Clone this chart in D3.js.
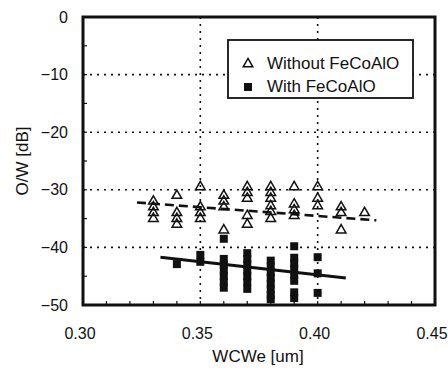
<!DOCTYPE html>
<html>
<head>
<meta charset="utf-8">
<script src="https://cdn.jsdelivr.net/npm/d3@7/dist/d3.min.js"></script>
<style>
  body { margin: 0; background: #fff; }
  text { font-family: Arial, "Liberation Sans", sans-serif; fill: #111; }
</style>
</head>
<body>
<div id="chart"></div>
<script>
// x positions (WCWe, um)
const wcwe = [0.33, 0.34, 0.35, 0.36, 0.37, 0.38, 0.39, 0.40, 0.41, 0.42];

// O/W [dB] without FeCoAlO, one list per WCWe
const withoutVals = [
  [-32, -33, -34, -35],
  [-31, -34, -35, -36],
  [-29.5, -33, -34, -35],
  [-31, -32, -33, -37],
  [-29.5, -30.5, -31.5, -34.5, -36],
  [-29.5, -30.5, -31.5, -32.8, -33.8, -35],
  [-29.5, -32.5, -33.5, -34.5],
  [-29.5, -31.5, -32.8],
  [-33, -34, -37],
  [-34]
];

// O/W [dB] with FeCoAlO (no data at 0.33, 0.41, 0.42)
const withVals = [
  [],
  [-42.9],
  [-41.3, -42.5],
  [-38.5, -42, -43, -44, -45, -46, -47],
  [-41, -42, -43, -44, -45, -46, -47.2],
  [-42.3, -43.3, -44.3, -45.3, -46.3, -47.3, -48.3, -49],
  [-39.8, -41.8, -42.8, -43.8, -44.8, -45.8, -47.8, -48.8],
  [-41.7, -44.5, -47.9],
  [],
  []
];

// trend lines (endpoints)
const withoutFit = [[0.323, -32.2], [0.425, -35.3]];
const withFit = [[0.333, -41.7], [0.412, -45.3]];

const xTicks = [0.30, 0.35, 0.40, 0.45];
const yTicks = [0, -10, -20, -30, -40, -50];
const legendLabels = ["Without FeCoAlO", "With FeCoAlO"];

const width = 448, height = 369;
const margin = { left: 83, top: 17, right: 13, bottom: 64 };

const svg = d3.select('#chart').append('svg')
  .attr('width', width)
  .attr('height', height);

const x = d3.scaleLinear().domain([0.30, 0.45]).range([margin.left, width - margin.right]);
const y = d3.scaleLinear().domain([-50, 0]).range([height - margin.bottom, margin.top]);

// grid (dotted)
svg.append('g').selectAll('line')
  .data([-10, -20, -30, -40])
  .enter().append('line')
  .attr('x1', x(0.30)).attr('x2', x(0.45))
  .attr('y1', d => y(d)).attr('y2', d => y(d))
  .attr('stroke', '#111').attr('stroke-width', 1.6)
  .attr('stroke-dasharray', '2,5');

svg.append('g').selectAll('line')
  .data([0.35, 0.40])
  .enter().append('line')
  .attr('x1', d => x(d)).attr('x2', d => x(d))
  .attr('y1', y(0)).attr('y2', y(-50))
  .attr('stroke', '#111').attr('stroke-width', 1.6)
  .attr('stroke-dasharray', '2,5');

// minor inner ticks
svg.append('g').selectAll('line')
  .data(d3.range(-45, 0, 5))
  .enter().append('line')
  .attr('x1', x(0.30)).attr('x2', x(0.30) + 4)
  .attr('y1', d => y(d)).attr('y2', d => y(d))
  .attr('stroke', '#111').attr('stroke-width', 1.2);

svg.append('g').selectAll('line')
  .data(d3.range(31, 45).map(d => d / 100))
  .enter().append('line')
  .attr('x1', d => x(d)).attr('x2', d => x(d))
  .attr('y1', y(-50)).attr('y2', y(-50) - 4)
  .attr('stroke', '#111').attr('stroke-width', 1.2);

// trend lines
const line = d3.line().x(d => x(d[0])).y(d => y(d[1]));
svg.append('path')
  .attr('d', line(withoutFit))
  .attr('fill', 'none').attr('stroke', '#111').attr('stroke-width', 2.6)
  .attr('stroke-dasharray', '9,5');
svg.append('path')
  .attr('d', line(withFit))
  .attr('fill', 'none').attr('stroke', '#111').attr('stroke-width', 3);

// points
const tri = d3.symbol().type(d3.symbolTriangle).size(40);
const triPts = wcwe.flatMap((w, i) => withoutVals[i].map(v => [w, v]));
const sqPts = wcwe.flatMap((w, i) => withVals[i].map(v => [w, v]));

const sq = 8;
svg.append('g').selectAll('rect')
  .data(sqPts)
  .enter().append('rect')
  .attr('x', d => x(d[0]) - sq / 2)
  .attr('y', d => y(d[1]) - sq / 2)
  .attr('width', sq).attr('height', sq)
  .attr('fill', '#111');

svg.append('g').selectAll('path')
  .data(triPts)
  .enter().append('path')
  .attr('d', tri)
  .attr('transform', d => `translate(${x(d[0])},${y(d[1])})`)
  .attr('fill', 'none').attr('stroke', '#111').attr('stroke-width', 1.5);

// frame
svg.append('rect')
  .attr('x', x(0.30)).attr('y', y(0))
  .attr('width', x(0.45) - x(0.30)).attr('height', y(-50) - y(0))
  .attr('fill', 'none').attr('stroke', '#111').attr('stroke-width', 3);

// tick labels
svg.append('g').selectAll('text')
  .data(yTicks)
  .enter().append('text')
  .attr('x', 68).attr('y', d => y(d))
  .attr('dy', '0.35em')
  .attr('text-anchor', 'end')
  .style('font-size', '16px')
  .text(d => d === 0 ? '0' : '\u2212' + Math.abs(d));

svg.append('g').selectAll('text')
  .data(xTicks)
  .enter().append('text')
  .attr('x', d => x(d) - 3).attr('y', 339)
  .attr('text-anchor', 'middle')
  .style('font-size', '16px')
  .text(d => d.toFixed(2));

// axis titles
svg.append('text')
  .attr('transform', `translate(28,${(y(0) + y(-50)) / 2}) rotate(-90)`)
  .attr('text-anchor', 'middle')
  .style('font-size', '17px')
  .text('O/W [dB]');

svg.append('text')
  .attr('x', 258).attr('y', 362)
  .attr('text-anchor', 'middle')
  .style('font-size', '17px')
  .text('WCWe [um]');

// legend
const lg = svg.append('g');
lg.append('rect')
  .attr('x', 228).attr('y', 40).attr('width', 185).attr('height', 58)
  .attr('fill', '#fff').attr('stroke', '#111').attr('stroke-width', 1.8);
lg.append('path')
  .attr('d', tri)
  .attr('transform', 'translate(248,64)')
  .attr('fill', 'none').attr('stroke', '#111').attr('stroke-width', 1.5);
lg.append('rect')
  .attr('x', 244).attr('y', 83).attr('width', sq).attr('height', sq)
  .attr('fill', '#111');
lg.selectAll('text')
  .data(legendLabels)
  .enter().append('text')
  .attr('x', 267).attr('y', (d, i) => 69 + i * 23)
  .style('font-size', '17px')
  .text(d => d);
</script>
</body>
</html>
